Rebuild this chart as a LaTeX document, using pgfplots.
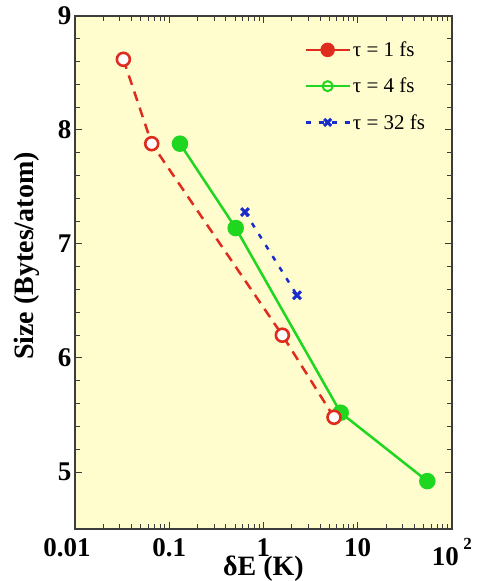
\documentclass[border=0pt]{standalone}
\usepackage{pgfplots}
\pgfplotsset{compat=1.18}
\usepackage{fontspec}
\setmainfont{Liberation Serif}

\definecolor{bgyellow}{RGB}{255,252,206}
\definecolor{cred}{RGB}{222,45,30}
\definecolor{cgreen}{RGB}{30,215,30}
\definecolor{cblue}{RGB}{25,45,205}
\definecolor{caxis}{RGB}{60,60,60}

\begin{document}
\begin{tikzpicture}
	\begin{axis}[
			width=377pt,
			height=513pt,
			scale only axis,
			xmode=log,
			xmin=0.01, xmax=100,
			ymin=4.5, ymax=9,
			xtick={0.01,0.1,1,10,100},
			xticklabels={{\hspace*{-16pt}0.01},0.1,1,10,{10\,\raisebox{0.6em}{\fontsize{17}{18}\selectfont\bfseries 2}}},
			ytick={5,6,7,8,9},
			yticklabels={5,6,7,8,9},
			minor y tick num=4,
			tick label style={font=\fontsize{27}{30}\selectfont\bfseries},
			xticklabel style={yshift=-6pt},
			axis background/.style={fill=bgyellow},
			axis line style={caxis, line width=1.2pt},
			every tick/.style={caxis, line width=1pt},
			major tick length=7pt,
			minor tick length=5pt,
			xlabel={δE (K)},
			ylabel={Size (Bytes/atom)},
			label style={font=\fontsize{28}{30}\selectfont\bfseries},
			xlabel style={at={(axis description cs:0.5,-0.078)}, anchor=center},
			ylabel style={at={(axis description cs:-0.127,0.532)}, anchor=center, rotate=0},
			legend cell align=left,
			legend style={at={(axis description cs:0.6,0.958)}, anchor=north west,
				draw=none, fill=none, font=\fontsize{21}{22}\selectfont,
				row sep=16pt},
			legend image code/.code={
				\draw[mark repeat=2, mark phase=2, #1]
					plot coordinates {(0pt,0pt) (22pt,0pt) (44pt,0pt)};
			},
		]

		% legend samples as drawn in the original key
		\addlegendimage{cred, solid, line width=2.5pt, mark=*, mark size=6pt, mark options={solid, fill=cred}}
		\addlegendentry{τ = 1 fs}
		\addlegendimage{cgreen, solid, line width=2.5pt, mark=o, mark size=5pt, mark options={solid, line width=2pt}}
		\addlegendentry{τ = 4 fs}
		\addlegendimage{cblue, line width=2.5pt, dash pattern=on 5pt off 8pt, mark=x, mark size=5pt, mark options={solid, line width=3pt}}
		\addlegendentry{τ = 32 fs}

		% tau = 4 fs
		\addplot[forget plot, cgreen, line width=2.5pt, mark=*, mark size=7pt] coordinates {
				(0.130,7.88)
				(0.507,7.14)
				(6.59,5.52)
				(54.7,4.92)
			};

		% tau = 1 fs
		\addplot[forget plot, cred, line width=2.5pt, dash pattern=on 10pt off 7pt,
			mark=*, mark size=6.5pt, mark options={solid, fill=white, draw=cred, line width=2.6pt}] coordinates {
				(0.0326,8.62)
				(0.0652,7.88)
				(1.585,6.20)
				(5.6,5.48)
			};

		% tau = 32 fs
		\addplot[forget plot, cblue, line width=2.5pt, dash pattern=on 5pt off 8pt,
			mark=x, mark size=5.5pt, mark options={solid, line width=3pt}] coordinates {
				(0.637,7.28)
				(2.27,6.55)
			};

	\end{axis}
	\pgfresetboundingbox
	\path ([shift={(-75pt,-52pt)}]current axis.south west) rectangle ([shift={(26pt,16pt)}]current axis.north east);
\end{tikzpicture}
\end{document}
